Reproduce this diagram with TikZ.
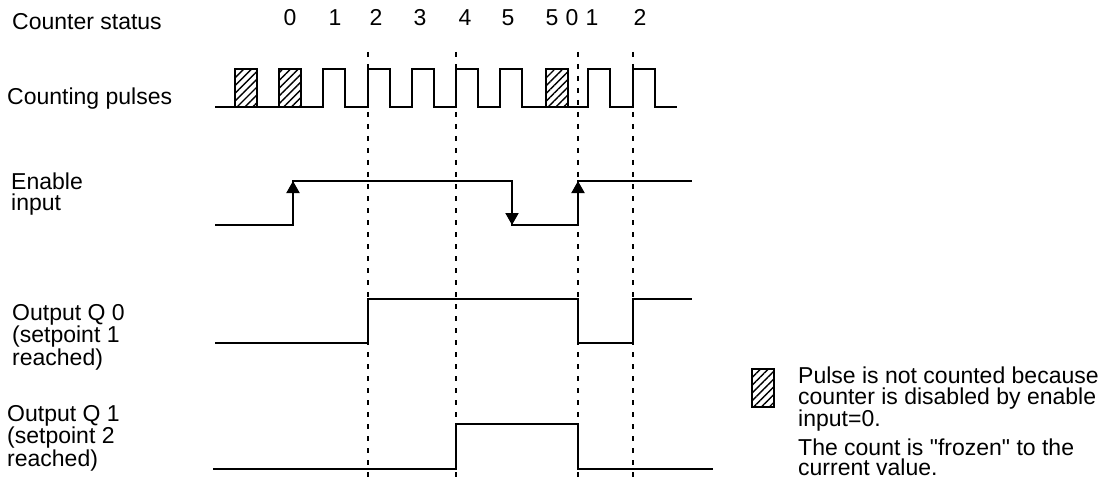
\documentclass[tikz,border=0pt]{standalone}
\usepackage{fontspec}
\setmainfont{Liberation Sans}
\usetikzlibrary{arrows.meta,patterns.meta}
\tikzset{
  trace/.style={line width=2pt,line join=miter},
  pulsetrain/.style={line width=2.6pt,line join=miter},
  guide/.style={line width=1.3pt,dash pattern=on 5pt off 7pt},
  frozen/.style={draw=black,line width=2pt,pattern={Lines[angle=45,distance=5.5pt,line width=1.4pt]}},
  edgetip/.style={-{Triangle[width=13pt,length=12pt]},line width=2pt},
  lbl/.style={anchor=north west,inner sep=0pt,align=left,font=\fontsize{23}{20.5}\selectfont},
  cnt/.style={anchor=base,inner sep=0pt,font=\fontsize{23}{20}\selectfont},
}

\begin{document}
\begin{tikzpicture}[x=1pt,y=-1pt]
    \useasboundingbox (0,0) rectangle (1106,484);
    % row labels
    \node[lbl] (cs) at (12,13) {Counter status};
    \node[lbl] (cp) at (7,88) {Counting pulses};
    \node[lbl] (en) at (11,173) {Enable\\input};
    \node[lbl] (qa) at (12,304) {Output Q 0\\(setpoint 1\\reached)};
    \node[lbl] (qb) at (7,405) {Output Q 1\\(setpoint 2\\reached)};
    % counter values
    \foreach \x/\v [count=\i] in {290/0,335/1,376/2,420/3,465/4,508/5,552/5,572/0,592/1,640/2}
      \node[cnt] (v\i) at (\x,26) {\v};
    % dashed guides
    \foreach \x in {368,456,578,633}
      \draw[guide] (\x,52) -- (\x,484);
    % counting pulses
    \draw[pulsetrain] (215,107) foreach \r in {323,368,412,456,500,588,633} {
        -- (\r,107) -- (\r,69) -- (\r+22,69) -- (\r+22,107) } -- (677,107);
    \foreach \h in {235,279,546}
      \draw[frozen] (\h,107) rectangle ++(22,-38);
    % enable input
    \draw[trace] (215,225) -- (293,225) -- (293,181) -- (512,181) -- (512,225)
      -- (578,225) -- (578,181) -- (692,181);
    \draw[edgetip] (293,215) -- (293,181);
    \draw[edgetip] (512,191) -- (512,225);
    \draw[edgetip] (578,215) -- (578,181);
    % outputs
    \draw[trace] (215,343) -- (368,343) -- (368,299) -- (578,299) -- (578,343)
      -- (633,343) -- (633,299) -- (692,299);
    \draw[trace] (213,469) -- (456,469) -- (456,424) -- (578,424) -- (578,469)
      -- (713,469);
    % legend
    \draw[frozen] (752,407) rectangle (774,369);
    \node[lbl] (note) at (798,367) {Pulse is not counted because\\counter is disabled by enable\\input=0.\\[6pt]The count is \textquotedbl frozen\textquotedbl{} to the\\current value.};
\end{tikzpicture}
\end{document}
